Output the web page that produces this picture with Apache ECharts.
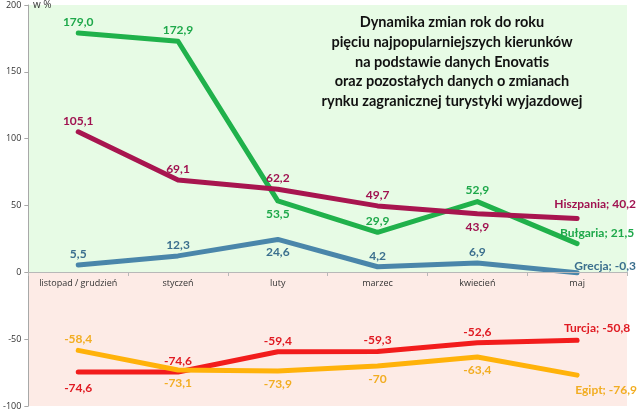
<!DOCTYPE html>
<html><head><meta charset="utf-8">
<script src="https://cdn.jsdelivr.net/npm/echarts@6/dist/echarts.min.js"></script>
<style>html,body{margin:0;padding:0;background:#fff}#c{width:640px;height:414px}</style>
</head><body><div id="c"></div>
<script>
var categories = ['listopad / grudzień','styczeń','luty','marzec','kwiecień','maj'];
var bulgaria  = [179.0, 172.9, 53.5, 29.9, 52.9, 21.5];
var hiszpania = [105.1, 69.1, 62.2, 49.7, 43.9, 40.2];
var grecja    = [5.5, 12.3, 24.6, 4.2, 6.9, -0.3];
var turcja    = [-74.6, -74.6, -59.4, -59.3, -52.6, -50.8];
var egipt     = [-58.4, -73.1, -73.9, -70, -63.4, -76.9];
var egiptDecimals = [1, 1, 1, 0, 1, 1];
var yTicks = [-100, -50, 0, 50, 100, 150, 200];
var titleLines = ['Dynamika zmian rok do roku','pięciu najpopularniejszych kierunków','na podstawie danych Enovatis','oraz pozostałych danych o zmianach','rynku zagranicznej turystyki wyjazdowej'];

function fmt(v, d){ return v.toFixed(d == null ? 1 : d).replace('.', ','); }

var FONT = 'Lato';
function mk(name, data, color, labelColor, places, endPlace, decimals){
  return {
    name: name, type: 'line', data: data.map(function(v, i){
      var last = i === data.length - 1;
      var p = last ? endPlace : places[i];
      var d = decimals ? decimals[i] : 1;
      return { value: v, label: {
        position: p.pos, offset: p.off || [0,0], distance: p.dist || 5,
        formatter: last ? (name + '; ' + fmt(v, d)) : fmt(v, d)
      }};
    }),
    symbol: 'circle', symbolSize: 0, showSymbol: true,
    lineStyle: { color: color, width: 5, cap: 'round', join: 'round' },
    itemStyle: { color: color },
    label: { show: true, color: labelColor, fontFamily: FONT, fontWeight: 'bold', fontSize: 12 },
    z: 3, animation: false
  };
}
var T = {pos:'top'}, B = {pos:'bottom', dist:7};
var series = [
  mk('Bułgaria', bulgaria, '#20b14b', '#1ea84a', [T,T,B,T,T], {pos:'top', off:[20,1]}),
  mk('Hiszpania', hiszpania, '#a8154f', '#a01250', [T,T,T,T,B], {pos:'top', off:[18,-3]}),
  mk('Grecja', grecja, '#4a86aa', '#3b6f8e', [T,T,B,T,T], {pos:'top', off:[28,4]}),
  mk('Turcja', turcja, '#f21c1c', '#e01a22', [{pos:'bottom',dist:10},T,T,T,T], {pos:'top', off:[20,-1]}),
  mk('Egipt', egipt, '#ffb20a', '#f2ad22', [T,B,B,B,B], {pos:'bottom', dist:9, off:[29,0]}, egiptDecimals)
];
series[0].markArea = {
  silent: true, z: 0,
  data: [
    [{ yAxis: 0, itemStyle: { color: '#e7fbe5' } }, { yAxis: 200 }],
    [{ yAxis: -100, itemStyle: { color: '#fdebe6' } }, { yAxis: 0 }]
  ],
  label: { show: false }
};

var chart = echarts.init(document.getElementById('c'), null, { renderer: 'canvas' });
chart.setOption({
  backgroundColor: '#ffffff',
  animation: false,
  grid: { left: 27, right: 13, top: 5, bottom: 8, containLabel: false },
  xAxis: {
    type: 'category', data: categories, boundaryGap: true, position: 'bottom', offset: -134,
    axisLine: { onZero: false, lineStyle: { color: '#b8b8b8', width: 1 } },
    axisTick: { show: true, length: 4, lineStyle: { color: '#b8b8b8' } },
    axisLabel: { color: '#333', fontFamily: 'Open Sans', fontSize: 9, margin: 7, interval: 0 },
    splitLine: { show: false }, z: 4
  },
  yAxis: {
    type: 'value', min: yTicks[0], max: yTicks[yTicks.length-1], interval: 50,
    axisLine: { show: true, lineStyle: { color: '#a8a8a8' } },
    axisTick: { show: true, length: 4, lineStyle: { color: '#a8a8a8' } },
    axisLabel: { color: '#333', fontFamily: 'Open Sans', fontSize: 9, margin: 7 },
    splitLine: { show: false }
  },
  graphic: [
    { type: 'text', left: 33, top: 0, style: { text: 'w %', fill: '#333', font: '10px "Open Sans"' }, z: 10 },
    { type: 'text', x: 452, y: 13, style: {
        text: titleLines.join('\n'), fill: '#111', font: 'bold 14.5px Lato',
        align: 'center', textAlign: 'center', lineHeight: 19.6 }, z: 10 }
  ],
  series: series
});
</script></body></html>
